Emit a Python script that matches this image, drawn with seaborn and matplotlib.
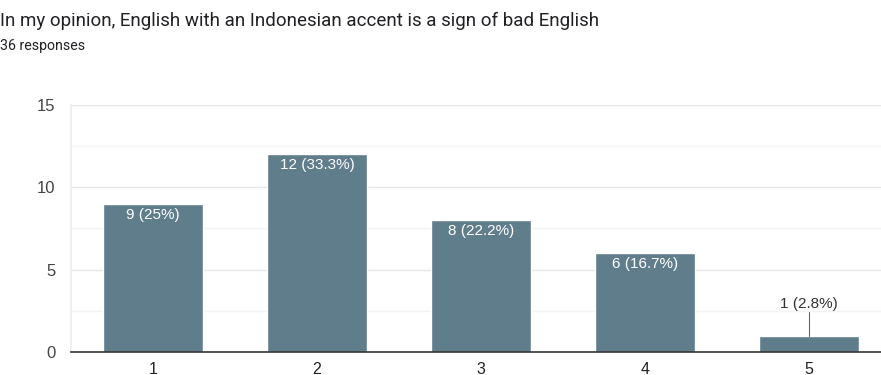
import matplotlib
matplotlib.use("Agg")
import matplotlib.pyplot as plt
import seaborn as sns
import pandas as pd

categories = ["1", "2", "3", "4", "5"]
counts = [9, 12, 8, 6, 1]
labels = ["9 (25%)", "12 (33.3%)", "8 (22.2%)", "6 (16.7%)", "1 (2.8%)"]
yticks = [0, 5, 10, 15]
title = "In my opinion, English with an Indonesian accent is a sign of bad English"
subtitle = "36 responses"

sns.set_theme(style="white")
plt.rcParams['font.family'] = ['Liberation Sans', 'DejaVu Sans']

df = pd.DataFrame({"cat": categories, "n": counts})

fig = plt.figure(figsize=(8.81, 3.75), dpi=100)
ax = fig.add_axes([0.0806, 0.0613, 0.9194, 0.659])

sns.barplot(data=df, x="cat", y="n", color="#607d8b", saturation=1, width=0.61, ax=ax, zorder=3)

ax.set_ylim(0, 15)
ax.set_xlim(-0.5, 4.44)
ax.set_yticks(yticks)
ax.set_yticks([2.5, 7.5, 12.5], minor=True)
ax.grid(axis="y", which="major", color="#e6e6e6", lw=1, zorder=0)
ax.grid(axis="y", which="minor", color="#f3f3f3", lw=1, zorder=0)
ax.tick_params(axis="y", which="both", length=0, labelsize=12, labelcolor="#444444", pad=11)
ax.tick_params(axis="x", length=0, labelsize=11.5, labelcolor="#222222", pad=7)
ax.set_xlabel("")
ax.set_ylabel("")
for s in ["top", "right"]:
    ax.spines[s].set_visible(False)
ax.spines["left"].set_color("#eeeeee")
ax.spines["bottom"].set_color("#333333")
ax.spines["bottom"].set_linewidth(1.2)
ax.spines["bottom"].set_zorder(5)

for i, (v, lab) in enumerate(zip(counts, labels)):
    if v >= 3:
        ax.text(i, v - 0.25, lab, ha="center", va="top", color="white", fontsize=11, zorder=6)
    else:
        ax.plot([i, i], [v, v + 1.4], color="#666666", lw=0.8, zorder=6)
        ax.text(i, v + 1.5, lab, ha="center", va="bottom", color="#333333", fontsize=11, zorder=6)

fig.text(0.0, 0.968, title, ha="left", va="top", fontsize=13.5, color="#202124", family=["Roboto", "DejaVu Sans"])
fig.text(0.0, 0.895, subtitle, ha="left", va="top", fontsize=10.2, color="#202124", family=["Roboto", "DejaVu Sans"])

fig.savefig("out.png", dpi=100, facecolor="white")
